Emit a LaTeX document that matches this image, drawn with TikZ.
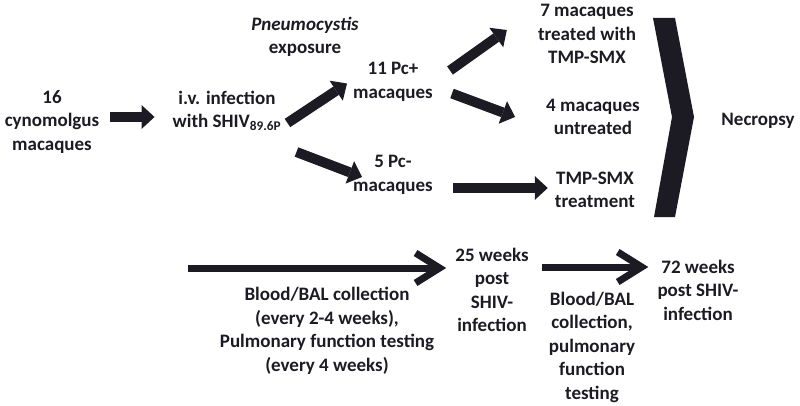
\documentclass[tikz,border=0pt]{standalone}
\usepackage{fontspec}
\setmainfont{Carlito}
\usepackage{tikz}
\usetikzlibrary{arrows.meta}
\definecolor{ink}{RGB}{28,27,36}

\begin{document}
\begin{tikzpicture}[x=1pt,y=-1pt,
  lbl/.style={font=\fontsize{19}{23.5}\selectfont\bfseries, text=ink, align=center, inner sep=0pt},
  blk/.style={ink, line width=10pt, -{Triangle[length=13pt,width=24pt,line width=0pt]}},
  thin/.style={ink, line width=7pt, -{Straight Barb[length=24pt,width=30pt]}}]
\useasboundingbox (0,0) rectangle (800,406);
\node [lbl] (mac) at (52,122) {16\\cynomolgus\\macaques};
\node [lbl] (iv) at (227,111) {i.v. infection\\with SHIV\textsubscript{89.6P}};
\node [lbl] (exp) at (305,37) {\textit{Pneumocystis}\\exposure};
\node [lbl] (pcp) at (393,82) {11 Pc+\\macaques};
\node [lbl] (pcn) at (393,175) {5 Pc-\\macaques};
\node [lbl] (trt) at (587,34) {7 macaques\\treated with\\TMP-SMX};
\node [lbl] (unt) at (593,117) {4 macaques\\untreated};
\node [lbl] (tmp) at (595,190) {TMP-SMX\\treatment};
\node [lbl] (nec) at (758,121) {Necropsy};
\node [lbl] (bal) at (327,331) {Blood/BAL collection\\(every 2-4 weeks),\\Pulmonary function testing\\(every 4 weeks)};
\node [lbl] (w25) at (492,290) {25 weeks\\post\\SHIV-\\infection};
\node [lbl] (bal2) at (592,347) {Blood/BAL\\collection,\\pulmonary\\function\\testing};
\node [lbl] (w72) at (698,290) {72 weeks\\post SHIV-\\infection};
\coordinate (t0) at (188,268);
% top arrows
\draw [blk] ([shift={(11,-5)}]mac.east) -- ([shift={(-18,6)}]iv.west);
\draw [blk] ([shift={(6,12)}]iv.east) -- ([shift={(-6,1.5)}]pcp.west);
\draw [blk] ([shift={(15,41)}]iv.east) -- ([shift={(9,2)}]pcn.west);
\draw [blk] ([shift={(17,-11.5)}]pcp.east) -- ([shift={(-31,-4)}]trt.west);
\draw [blk] ([shift={(19,11.5)}]pcp.east) -- ([shift={(-31,0)}]unt.west);
\draw [blk] ([shift={(20,13)}]pcn.east) -- ([shift={(-7,-2)}]tmp.west);
\fill [ink] (653,18) -- (675,18) -- (694,117) -- (675,217) -- (654,217) -- (672,117) -- cycle;
% time line
\draw [thin] (t0) -- ([shift={(-9,-22)}]w25.west);
\draw [thin] ([shift={(13,-23)}]w25.east) -- ([shift={(-9,-23)}]w72.west);
\end{tikzpicture}
\end{document}
